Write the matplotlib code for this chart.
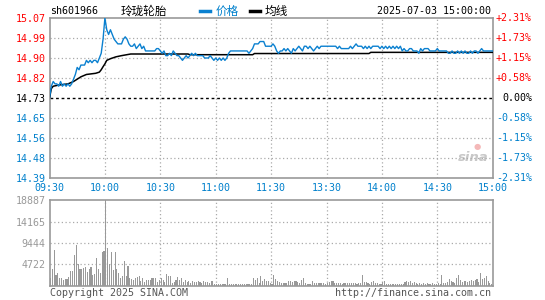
import matplotlib
matplotlib.use('Agg')
import matplotlib.pyplot as plt
import numpy as np

# ---------------- data ----------------
prev_close = 14.73
price = [
    14.73, 14.78, 14.80, 14.79, 14.79, 14.78, 14.80, 14.78, 14.79, 14.78,
    14.79, 14.78, 14.79, 14.81, 14.83, 14.86, 14.85, 14.87, 14.87, 14.87,
    14.89, 14.88, 14.89, 14.88, 14.89, 14.89, 14.88, 14.90, 14.92, 14.98,
    15.07, 15.02, 15.00, 15.02, 15.00, 14.98, 14.97, 14.96, 14.96, 14.96,
    14.98, 14.99, 14.98, 14.96, 14.95, 14.95, 14.96, 14.94, 14.95, 14.96,
    14.94, 14.95, 14.93, 14.93, 14.93, 14.93, 14.93, 14.93, 14.94, 14.94,
    14.93, 14.92, 14.93, 14.91, 14.91, 14.92, 14.91, 14.93, 14.92, 14.91,
    14.91, 14.90, 14.89, 14.90, 14.91, 14.90, 14.91, 14.92, 14.91, 14.92,
    14.91, 14.91, 14.91, 14.91, 14.90, 14.90, 14.90, 14.91, 14.90, 14.89,
    14.90, 14.89, 14.90, 14.89, 14.90, 14.89, 14.90, 14.92, 14.93, 14.93,
    14.93, 14.93, 14.93, 14.93, 14.93, 14.93, 14.93, 14.93, 14.92, 14.93,
    14.94, 14.96, 14.96, 14.96, 14.97, 14.97, 14.97, 14.95, 14.95, 14.95,
    14.95, 14.96, 14.95, 14.93, 14.92, 14.93, 14.93, 14.94, 14.93, 14.94,
    14.93, 14.92, 14.94, 14.93, 14.94, 14.95, 14.94, 14.93, 14.95, 14.95,
    14.94, 14.95, 14.94, 14.93, 14.94, 14.95, 14.94, 14.95, 14.95, 14.95,
    14.95, 14.95, 14.95, 14.95, 14.95, 14.95, 14.94, 14.95, 14.94, 14.94,
    14.94, 14.94, 14.94, 14.95, 14.94, 14.95, 14.96, 14.95, 14.95, 14.95,
    14.94, 14.95, 14.94, 14.95, 14.94, 14.95, 14.95, 14.95, 14.95, 14.94,
    14.95, 14.94, 14.95, 14.94, 14.95, 14.94, 14.95, 14.94, 14.95, 14.94,
    14.95, 14.93, 14.94, 14.93, 14.93, 14.94, 14.94, 14.93, 14.93, 14.93,
    14.92, 14.94, 14.93, 14.94, 14.94, 14.94, 14.93, 14.93, 14.93, 14.93,
    14.94, 14.93, 14.93, 14.93, 14.93, 14.93, 14.92, 14.92, 14.93, 14.92,
    14.92, 14.93, 14.92, 14.93, 14.92, 14.93, 14.92, 14.92, 14.93, 14.92,
    14.93, 14.93, 14.92, 14.93, 14.94, 14.93, 14.93, 14.93, 14.93, 14.93,
    14.93,
]
avg_minutes = [0, 1, 2, 5, 10, 13, 15, 17, 20, 25, 27, 28, 29, 30, 31, 33, 36,
               39, 44, 75, 76, 110, 111, 173, 174, 240]
avg_price = [14.73, 14.77, 14.78, 14.785, 14.79, 14.80, 14.81, 14.82, 14.83,
             14.835, 14.84, 14.85, 14.863, 14.875, 14.89, 14.897, 14.905,
             14.91, 14.917, 14.917, 14.914, 14.914, 14.919, 14.919, 14.924,
             14.924]
volume = [
    1760, 3680, 7860, 2350, 2720, 1620, 1620, 1250, 1470, 1470,
    1990, 3230, 3230, 6760, 8970, 4700, 3680, 3680, 3970, 4190,
    3090, 3680, 4190, 2350, 2650, 6170, 3680, 2720, 7350, 7640,
    18887, 8380, 4700, 7350, 3450, 7350, 3680, 2720, 1760, 2200,
    5440, 2200, 4410, 1760, 1470, 1250, 1760, 1990, 2200, 1030,
    1760, 735, 1250, 1250, 1250, 1620, 1760, 1760, 735, 1250,
    1760, 1250, 735, 2500, 2200, 2200, 515, 735, 1280, 1890,
    1300, 1700, 700, 1300, 700, 1100, 500, 1000, 700, 700,
    1000, 700, 500, 1000, 700, 700, 500, 1100, 1000, 400,
    350, 400, 300, 400, 350, 400, 1700, 400, 350, 300,
    400, 350, 400, 300, 350, 400, 300, 350, 400, 300,
    1700, 1300, 1700, 500, 2000, 1100, 1500, 1000, 1100, 500,
    350, 2260, 1500, 1000, 750, 500, 500, 450, 500, 1000,
    1100, 750, 1000, 1100, 750, 500, 1300, 1700, 500, 350,
    350, 350, 1000, 500, 500, 500, 500, 500, 500, 350,
    500, 750, 1100, 1000, 500, 450, 550, 500, 400, 500,
    600, 500, 450, 500, 550, 500, 400, 500, 600, 2260,
    750, 750, 500, 350, 750, 1000, 500, 500, 350, 350,
    750, 1000, 350, 300, 350, 400, 350, 300, 350, 400,
    350, 300, 750, 1000, 750, 1100, 500, 750, 500, 400,
    500, 350, 500, 400, 500, 350, 400, 500, 350, 400,
    500, 350, 2260, 500, 500, 750, 1500, 1100, 750, 500,
    1700, 2260, 1300, 750, 1000, 1000, 750, 1000, 1300, 1000,
    1300, 1500, 750, 2800, 1500, 1700, 2000, 1100, 600, 400,
]
price_labels = ['15.07', '14.99', '14.90', '14.82', '14.73',
                '14.65', '14.56', '14.48', '14.39']
pct_labels = ['+2.31%', '+1.73%', '+1.15%', '+0.58%', '0.00%',
              '-0.58%', '-1.15%', '-1.73%', '-2.31%']
time_labels = ['09:30', '10:00', '10:30', '11:00', '11:30',
               '13:30', '14:00', '14:30', '15:00']
vol_ticks = [18887, 14165, 9444, 4722]
vol_labels = ['18887', '14165', '9444', '4722']
price_range = 0.34

# ---------------- style ----------------
W, H = 545, 300
MONO = 'DejaVu Sans Mono'
CJK = ['Noto Sans CJK SC', 'DejaVu Sans']
FS = 7.2
RED = '#FF0000'
BLUE = '#0080CC'
LINE_BLUE = '#0A80D0'
GRAY = '#999999'
GRID = '#AAAAAA'
DOT = (0, (1, 2))

fig = plt.figure(figsize=(W / 100, H / 100), dpi=100)
fig.patch.set_facecolor('white')

L, R = 49.5, 492.7
ax = fig.add_axes([L / W, 1 - 178 / H, (R - L) / W, 160 / H])
axv = fig.add_axes([L / W, 1 - 285.5 / H, (R - L) / W, 85.3 / H])

n_min = len(price) - 1
x_price = np.arange(len(price))
ymin, ymax = prev_close - price_range, prev_close + price_range
tick_pos = np.linspace(ymax, ymin, len(price_labels))

# --- price panel ---
ax.set_xlim(0, n_min)
ax.set_ylim(ymin, ymax)
for s in ax.spines.values():
    s.set_color(GRAY)
    s.set_linewidth(1.2)
xt = np.arange(0, n_min + 1, 30)
for x in xt[1:-1]:
    ax.axvline(x, color=GRID, lw=0.9, ls=DOT, zorder=1)
for i, y in enumerate(tick_pos[1:-1], start=1):
    if price_labels[i] == '14.73':
        ax.axhline(y, color='black', lw=1.0, ls=(0, (2, 2)), zorder=2)
    else:
        ax.axhline(y, color=GRID, lw=0.9, ls=DOT, zorder=1)

ax.plot(avg_minutes, avg_price, color='black', lw=1.1, zorder=3)
ax.plot(x_price, price, color=LINE_BLUE, lw=1.0, zorder=4)

ax.set_yticks(tick_pos)
ax.set_yticklabels(price_labels, fontfamily=MONO, fontsize=FS)
ax.set_xticks(xt)
ax.set_xticklabels(time_labels, fontfamily=MONO, fontsize=FS, color=BLUE)
ax.tick_params(axis='y', length=0, pad=3.0)
ax.tick_params(axis='x', length=0, pad=3.5)


def label_color(lbl):
    v = float(lbl.replace('%', '').replace('+', ''))
    if lbl.startswith('+') or (not lbl.startswith('-') and v > prev_close):
        return RED
    if lbl in ('14.73', '0.00%'):
        return 'black'
    return BLUE


for t, lbl in zip(ax.get_yticklabels(), price_labels):
    t.set_color(label_color(lbl))

for y, lbl in zip(tick_pos, pct_labels):
    ax.annotate(lbl, xy=(1, y), xycoords=ax.get_yaxis_transform(),
                xytext=(39.3 * 0.72, 0), textcoords='offset points',
                ha='right', va='center', fontfamily=MONO, fontsize=FS,
                color=label_color(lbl), annotation_clip=False)

# sina watermark
ax.text(0.955, 0.13, 'sina', transform=ax.transAxes, ha='center',
        va='center', fontsize=9.5, fontstyle='italic', fontweight='bold',
        color='#C8C8C8', fontfamily='DejaVu Sans', zorder=0)
ax.text(0.965, 0.2, '\u25CF', transform=ax.transAxes, ha='center',
        va='center', fontsize=6, color='#F4B8B8', zorder=0)

# --- volume panel ---
axv.set_xlim(0, n_min)
axv.set_ylim(0, vol_ticks[0])
for s in axv.spines.values():
    s.set_color(GRAY)
    s.set_linewidth(1.2)
for x in xt[1:-1]:
    axv.axvline(x, color=GRID, lw=0.9, ls=DOT, zorder=1)
for y in vol_ticks[1:]:
    axv.axhline(y, color=GRID, lw=0.9, ls=DOT, zorder=1)
axv.bar(np.arange(len(volume)) + 0.5, volume, width=0.6, color=GRAY,
        linewidth=0, zorder=2)
axv.set_xticks([])
axv.set_yticks(vol_ticks)
axv.set_yticklabels(vol_labels, fontfamily=MONO, fontsize=FS, color=GRAY)
axv.tick_params(axis='y', length=0, pad=3.0)

# --- header texts ---
def ftext(x, y, s, **kw):
    fig.text(x / W, 1 - y / H, s, **kw)

ftext(50, 11, 'sh601966', fontfamily=MONO, fontsize=FS, va='center', ha='left')
ftext(120.5, 11, '玲珑轮胎', fontfamily=CJK, fontsize=8.4, va='center', ha='left')
fig.add_artist(plt.Line2D([200 / W, 210 / W], [1 - 11 / H, 1 - 11 / H],
                          color=LINE_BLUE, lw=2.5, transform=fig.transFigure))
ftext(215.5, 11, '价格', fontfamily=CJK, fontsize=8.4, va='center', ha='left',
      color=BLUE)
fig.add_artist(plt.Line2D([250 / W, 260 / W], [1 - 11 / H, 1 - 11 / H],
                          color='black', lw=2.5, transform=fig.transFigure))
ftext(264.5, 11, '均线', fontfamily=CJK, fontsize=8.4, va='center', ha='left')
ftext(491, 11, '2025-07-03 15:00:00', fontfamily=MONO, fontsize=FS,
      va='center', ha='right')

# --- footer ---
ftext(50, 293, 'Copyright 2025 SINA.COM', fontfamily=MONO, fontsize=FS,
      va='center', ha='left', color='#555555')
ftext(491, 293, 'http://finance.sina.com.cn', fontfamily=MONO, fontsize=FS,
      va='center', ha='right', color='#555555')

fig.savefig('out.png', dpi=100)
